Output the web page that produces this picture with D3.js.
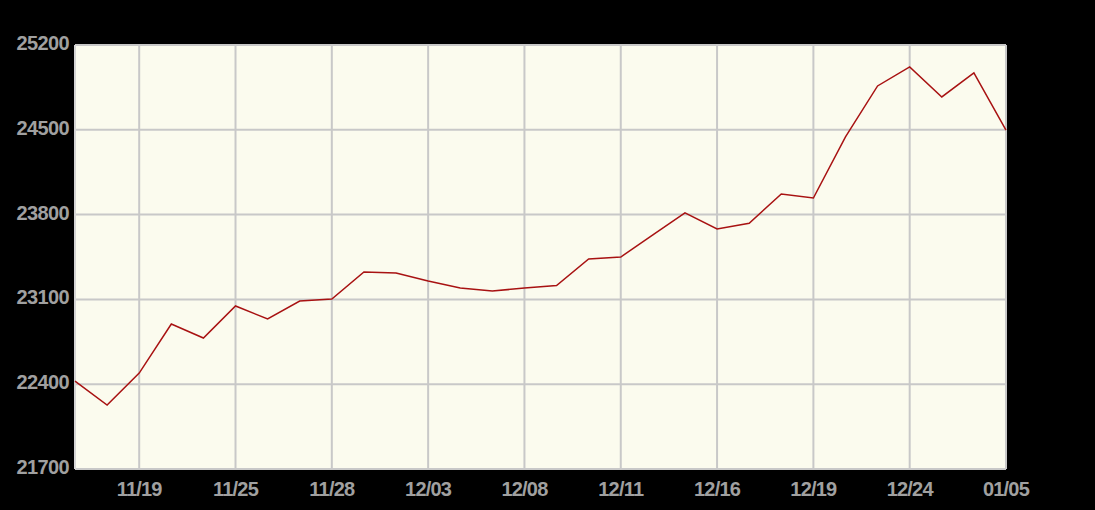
<!DOCTYPE html>
<html><head><meta charset="utf-8">
<script src="https://cdn.jsdelivr.net/npm/d3@7"></script>
<style>
html,body{margin:0;padding:0;background:#000;}
svg{display:block;}
</style></head>
<body>
<script>
const values = [22426,22228,22492,22897,22781,23046,22938,23087,23103,23326,23318,23252,23194,23169,23194,23215,23434,23450,23632,23815,23681,23728,23970,23937,24441,24862,25019,24771,24969,24498];
const tickIndex = [2,5,8,11,14,17,20,23,26,29];
const tickLabels = ["11/19","11/25","11/28","12/03","12/08","12/11","12/16","12/19","12/24","01/05"];
const yTicks = [21700,22400,23100,23800,24500,25200];

const W=1095,H=510;
const m={l:75,r:89,t:45,b:41};
const svg=d3.select("body").append("svg").attr("width",W).attr("height",H);
svg.append("rect").attr("width",W).attr("height",H).attr("fill","#000");

const x=d3.scaleLinear().domain([0,values.length-1]).range([m.l,W-m.r]);
const y=d3.scaleLinear().domain([21700,25200]).range([H-m.b,m.t]);

svg.append("rect").attr("x",m.l).attr("y",m.t).attr("width",W-m.r-m.l).attr("height",H-m.b-m.t).attr("fill","#fbfbee");

const g=svg.append("g");
g.selectAll(".vg").data(tickIndex).join("line")
 .attr("x1",d=>x(d)).attr("x2",d=>x(d)).attr("y1",m.t).attr("y2",H-m.b)
 .attr("stroke","#c8c8c8").attr("stroke-width",2);
g.selectAll(".hg").data(yTicks).join("line")
 .attr("x1",m.l).attr("x2",W-m.r).attr("y1",d=>y(d)).attr("y2",d=>y(d))
 .attr("stroke","#c8c8c8").attr("stroke-width",2);
g.append("line").attr("x1",m.l).attr("x2",m.l).attr("y1",m.t).attr("y2",H-m.b).attr("stroke","#d4d4d4").attr("stroke-width",2);

const line=d3.line().x((d,i)=>x(i)).y(d=>y(d));
svg.append("path").datum(values).attr("d",line).attr("fill","none").attr("stroke","#a81212").attr("stroke-width",1.5);

const font="Liberation Sans, Arial, sans-serif";
svg.selectAll(".yl").data(yTicks).join("text")
 .attr("x",69).attr("y",d=>y(d)+5).attr("text-anchor","end")
 .attr("fill","#a0a0a0").attr("font-family",font).attr("font-weight","bold").attr("font-size",20)
 .attr("letter-spacing","-0.6")
 .text(d=>d);
svg.selectAll(".xl").data(tickIndex).join("text")
 .attr("x",d=>x(d)).attr("y",496).attr("text-anchor","middle")
 .attr("fill","#a0a0a0").attr("font-family",font).attr("font-weight","bold").attr("font-size",20)
 .attr("letter-spacing","-0.8")
 .text((d,i)=>tickLabels[i]);
</script>
</body></html>
